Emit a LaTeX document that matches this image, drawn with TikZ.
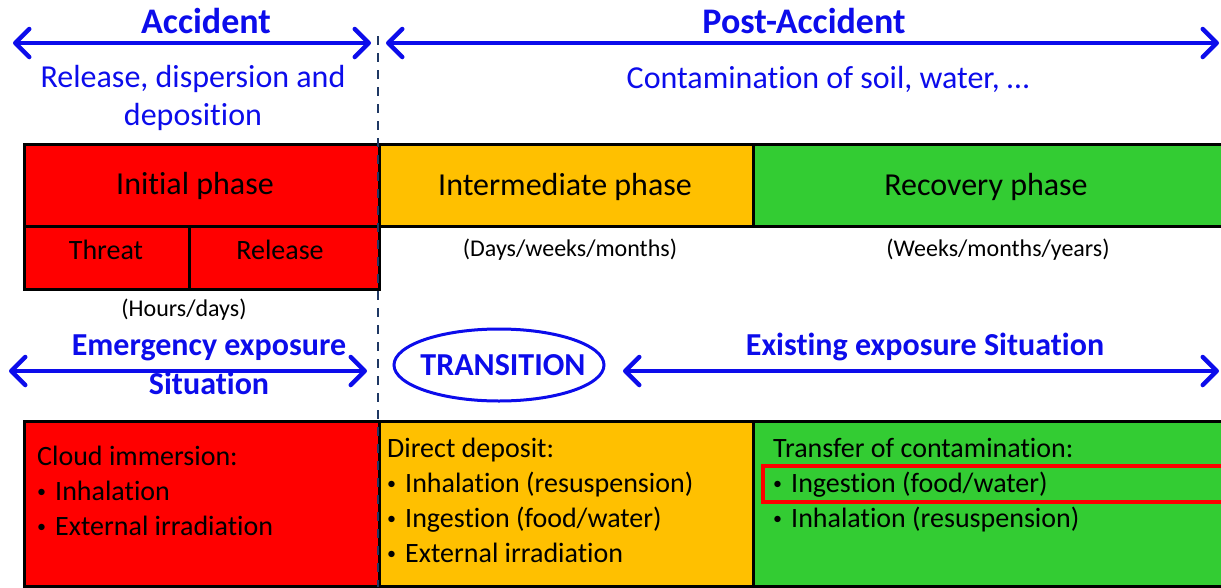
\documentclass[tikz,border=0pt]{standalone}
\usepackage{fontspec}
\setmainfont{Carlito}[Ligatures=NoCommon]
\usetikzlibrary{arrows.meta}

\definecolor{accblue}{RGB}{12,12,235}
\definecolor{phred}{RGB}{255,0,0}
\definecolor{phorange}{RGB}{255,192,0}
\definecolor{phgreen}{RGB}{51,204,51}
\definecolor{divnavy}{RGB}{31,56,100}

% small bullet followed by a fixed indent
\newcommand{\itemdot}{\makebox[18pt][l]{\raisebox{3pt}{\fontsize{18}{18}\selectfont •}}}

\tikzset{
  barb/.tip={Straight Barb[length=14pt,width=28pt,line cap=round,line join=round]},
  span/.style={draw=accblue, line width=4.5pt, line cap=round, barb-barb},
  headline/.style={text=accblue, font=\bfseries\fontsize{36}{42}\selectfont, inner sep=0pt, anchor=base},
  situation/.style={text=accblue, font=\bfseries\fontsize{32}{38}\selectfont, inner sep=0pt, anchor=base},
  subline/.style={text=accblue, font=\fontsize{32}{38}\selectfont, inner sep=0pt, anchor=base},
  box/.style={draw=black, line width=2.5pt, rectangle, inner sep=0pt, anchor=north west},
  phaselabel/.style={font=\fontsize{32}{38}\selectfont, inner sep=0pt, anchor=base},
  steplabel/.style={font=\fontsize{28}{34}\selectfont, inner sep=0pt, anchor=base},
  period/.style={font=\fontsize{24}{30}\selectfont, inner sep=0pt, anchor=base},
  itemline/.style={font=\fontsize{28}{34}\selectfont, inner sep=0pt, anchor=base west},
  divider/.style={draw=divnavy, line width=2.5pt, dash pattern=on 9pt off 8pt},
}

\begin{document}
\begin{tikzpicture}[x=1pt,y=-1pt]
\useasboundingbox (0,0) rectangle (1221,587);
\clip (0,0) rectangle (1221,587);

% ---- time line headers ----
\node[headline] (acc) at (206,33) {Accident};
\node[headline] (post) at (804,33) {Post-Accident};
\coordinate (accL) at (13,43);
\coordinate (accR) at (371,43);
\coordinate (postL) at (386,43);
\coordinate (postR) at (1219,43);
\draw[span] (accL) -- (accR);
\draw[span] (postL) -- (postR);

\node[subline] (rel1) at (193,87) {Release, dispersion and};
\node[subline] (rel2) at (193,125) {deposition};
\node[subline] (cont) at (828,88) {Contamination of soil, water, …};

% ---- phases ----
\node[box, fill=phred, minimum width=355pt, minimum height=82pt] (init) at (23,143) {};
\node[box, fill=phorange, minimum width=374pt, minimum height=82pt] (inter) at (378,143) {};
\node[box, fill=phgreen, minimum width=480pt, minimum height=82pt] (recov) at (752,143) {};
\node[box, fill=phred, minimum width=165pt, minimum height=63pt] (threat) at (23,225) {};
\node[box, fill=phred, minimum width=190pt, minimum height=63pt] (release) at (188,225) {};

\node[phaselabel] (initT) at (195,194) {Initial phase};
\node[phaselabel] (interT) at (565,195) {Intermediate phase};
\node[phaselabel] (recovT) at (986,195) {Recovery phase};
\node[steplabel] (threatT) at (106,259) {Threat};
\node[steplabel] (releaseT) at (280,259) {Release};

\node[period] (hours) at (184,316) {(Hours/days)};
\node[period] (days) at (570,256) {(Days/weeks/months)};
\node[period] (weeks) at (998,256) {(Weeks/months/years)};

% ---- exposure situations ----
\node[situation] (emerg1) at (209,355) {Emergency exposure};
\node[situation] (emerg2) at (209,394) {Situation};
\coordinate (emL) at (9,371);
\coordinate (emR) at (367,371);
\draw[span] (emL) -- (emR);

\node[inner sep=0pt, text=accblue, font=\bfseries\fontsize{32}{38}\selectfont] (trans) at (503,365) {TRANSITION};
\draw[accblue, line width=3pt] ([xshift=-4pt]trans.center) ellipse [x radius=105, y radius=36];

\node[situation] (exist) at (925,355) {Existing exposure Situation};
\coordinate (exL) at (623,371);
\coordinate (exR) at (1219,371);
\draw[span] (exL) -- (exR);

% ---- exposure pathways ----
\node[box, fill=phred, minimum width=355pt, minimum height=165pt] (pathA) at (23,420) {};
\node[box, fill=phorange, minimum width=374pt, minimum height=165pt] (pathB) at (378,420) {};
\node[box, fill=phgreen, minimum width=480pt, minimum height=165pt] (pathC) at (752,420) {};

\node[itemline] (a1) at (37,465) {Cloud immersion:};
\node[itemline] (a2) at (37,500) {\itemdot Inhalation};
\node[itemline] (a3) at (37,535) {\itemdot External irradiation};

\node[itemline] (b1) at (387,457) {Direct deposit:};
\node[itemline] (b2) at (387,492) {\itemdot Inhalation (resuspension)};
\node[itemline] (b3) at (387,527) {\itemdot Ingestion (food/water)};
\node[itemline] (b4) at (387,562) {\itemdot External irradiation};

\node[itemline] (c1) at (773,457) {Transfer of contamination:};
\node[itemline] (c2) at (773,492) {\itemdot Ingestion (food/water)};
\node[itemline] (c3) at (773,527) {\itemdot Inhalation (resuspension)};

\node[draw=phred, line width=4pt, rectangle, inner sep=0pt, anchor=north west,
      minimum width=490pt, minimum height=36pt] (focus) at (761,464) {};

% ---- accident / post-accident divider ----
\coordinate (divTop) at (378,36);
\coordinate (divBot) at (378,587);
\draw[divider] (divTop) -- (divBot);
\end{tikzpicture}
\end{document}
